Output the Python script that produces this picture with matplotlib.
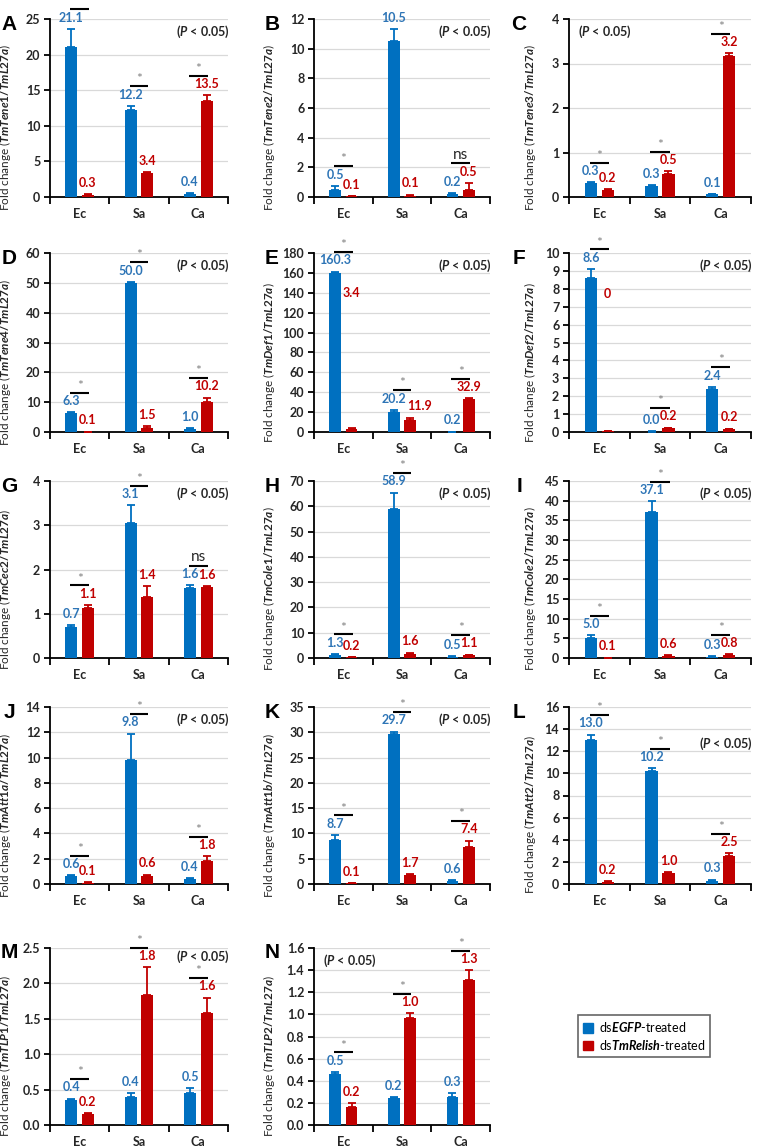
import matplotlib.pyplot as plt
import numpy as np
from matplotlib.patches import Patch

plt.rcParams["font.family"] = ["Lato", "DejaVu Sans"]
plt.rcParams["font.weight"] = "bold"
plt.rcParams["mathtext.fontset"] = "custom"
plt.rcParams["mathtext.it"] = "Lato:italic:bold"
plt.rcParams["mathtext.rm"] = "Lato:bold"
plt.rcParams["mathtext.bf"] = "Lato:bold"

# ---- data ----
groups = ["Ec", "Sa", "Ca"]
letters = ["A", "B", "C", "D", "E", "F", "G", "H", "I", "J", "K", "L", "M", "N"]
genes = ["TmTene1", "TmTene2", "TmTene3", "TmTene4", "TmDef1", "TmDef2", "TmCec2",
         "TmCole1", "TmCole2", "TmAtt1a", "TmAtt1b", "TmAtt2", "TmTLP1", "TmTLP2"]
ymaxs = [25, 12, 4, 60, 180, 10, 4, 70, 45, 14, 35, 16, 2.5, 1.6]
ysteps = [5, 2, 1, 10, 20, 1, 1, 10, 5, 2, 5, 2, 0.5, 0.2]

egfp = [[21.1, 12.2, 0.4], [0.5, 10.5, 0.2], [0.31, 0.25, 0.06], [6.3, 50.0, 1.0],
        [160.3, 20.2, 0.2], [8.6, 0.02, 2.4], [0.7, 3.05, 1.58], [1.3, 58.9, 0.5],
        [5.0, 37.1, 0.3], [0.6, 9.8, 0.4], [8.7, 29.7, 0.6], [13.0, 10.2, 0.3],
        [0.36, 0.40, 0.45], [0.46, 0.24, 0.25]]
egfp_err = [[2.5, 0.6, 0.1], [0.25, 0.8, 0.05], [0.02, 0.02, 0.01], [0.3, 0.3, 0.2],
            [0.8, 2.0, 0.1], [0.5, 0.01, 0.12], [0.05, 0.4, 0.07], [0.3, 6.5, 0.1],
            [0.8, 2.8, 0.1], [0.1, 2.1, 0.05], [1.0, 0.4, 0.15], [0.5, 0.25, 0.1],
            [0.01, 0.05, 0.07], [0.02, 0.01, 0.04]]
relish = [[0.3, 3.4, 13.5], [0.05, 0.1, 0.5], [0.15, 0.51, 3.17], [0.1, 1.5, 10.2],
          [3.4, 11.9, 32.9], [0.04, 0.2, 0.15], [1.12, 1.37, 1.6], [0.2, 1.6, 1.1],
          [0.1, 0.6, 0.8], [0.1, 0.6, 1.8], [0.1, 1.7, 7.4], [0.2, 1.0, 2.5],
          [0.15, 1.83, 1.58], [0.16, 0.97, 1.31]]
relish_err = [[0.1, 0.1, 0.8], [0.02, 0.05, 0.45], [0.02, 0.07, 0.06], [0.02, 0.4, 1.3],
              [0.3, 2.5, 1.0], [0.03, 0.05, 0.03], [0.08, 0.25, 0.03], [0.05, 0.5, 0.2],
              [0.02, 0.15, 0.2], [0.03, 0.15, 0.4], [0.02, 0.25, 1.2], [0.03, 0.1, 0.3],
              [0.02, 0.4, 0.22], [0.04, 0.04, 0.09]]
egfp_lab = [["21.1", "12.2", "0.4"], ["0.5", "10.5", "0.2"], ["0.3", "0.3", "0.1"],
            ["6.3", "50.0", "1.0"], ["160.3", "20.2", "0.2"], ["8.6", "0.0", "2.4"],
            ["0.7", "3.1", "1.6"], ["1.3", "58.9", "0.5"], ["5.0", "37.1", "0.3"],
            ["0.6", "9.8", "0.4"], ["8.7", "29.7", "0.6"], ["13.0", "10.2", "0.3"],
            ["0.4", "0.4", "0.5"], ["0.5", "0.2", "0.3"]]
relish_lab = [["0.3", "3.4", "13.5"], ["0.1", "0.1", "0.5"], ["0.2", "0.5", "3.2"],
              ["0.1", "1.5", "10.2"], ["3.4", "11.9", "32.9"], ["0", "0.2", "0.2"],
              ["1.1", "1.4", "1.6"], ["0.2", "1.6", "1.1"], ["0.1", "0.6", "0.8"],
              ["0.1", "0.6", "1.8"], ["0.1", "1.7", "7.4"], ["0.2", "1.0", "2.5"],
              ["0.2", "1.8", "1.6"], ["0.2", "1.0", "1.3"]]
sig = [["*", "*", "*"], ["*", "", "ns"], ["*", "*", "*"], ["*", "*", "*"],
       ["*", "*", "*"], ["*", "*", "*"], ["*", "*", "ns"], ["*", "*", "*"],
       ["*", "*", "*"], ["*", "*", "*"], ["*", "*", "*"], ["*", "*", "*"],
       ["*", "*", "*"], ["*", "*", "*"]]
p_side = ["right", "right", "left", "right", "right", "right", "right", "right",
          "right", "right", "right", "right", "right", "left"]

# ---- layout (pixels) ----
W, H = 759, 1147
BLUE, RED = "#0070C0", "#C00000"
BLUE_TXT = "#2E75B6"
col_left = [50, 314, 569]
col_right = [228, 490, 751]
row_top = [19, 253, 481, 707, 948]
row_bot = [197, 432, 658, 884, 1125]
ylab_x = [13, 277, 538]
letter_x = [9, 272, 519]
label_override = {(4, 0, 1): 134, (5, 0, 1): 7.4}
label_dx = {(4, 1, 1): 0.3}
p_y = {11: 0.79, 12: 0.95}

fig = plt.figure(figsize=(W / 100, H / 100), dpi=100)
x = np.arange(len(groups))

for i, letter in enumerate(letters):
    r, c = divmod(i, 3)
    l, rt, t, b = col_left[c], col_right[c], row_top[r], row_bot[r]
    ax = fig.add_axes([l / W, 1 - b / H, (rt - l) / W, (b - t) / H])
    ymax, step = ymaxs[i], ysteps[i]
    bv, be = np.array(egfp[i]), np.array(egfp_err[i])
    rv, re = np.array(relish[i]), np.array(relish_err[i])

    ekw_b = dict(ecolor=BLUE, capsize=3, elinewidth=1.3, capthick=1.3)
    ekw_r = dict(ecolor=RED, capsize=3, elinewidth=1.3, capthick=1.3)
    ax.bar(x - 0.14, bv, 0.2, color=BLUE, yerr=[np.zeros(3), be], error_kw=ekw_b, zorder=3)
    ax.bar(x + 0.14, rv, 0.2, color=RED, yerr=[np.zeros(3), re], error_kw=ekw_r, zorder=3)

    ax.set_xlim(-0.5, 2.5)
    ax.set_ylim(0, ymax)
    ax.set_yticks(np.arange(0, ymax + step / 2, step))
    if step < 1:
        ax.yaxis.set_major_formatter(plt.FormatStrFormatter("%.1f"))
    ax.yaxis.grid(True, color="#d9d9d9", lw=0.9)
    ax.set_axisbelow(True)
    ax.set_xticks(x)
    ax.set_xticklabels(groups)
    ax.set_xticks([-0.5, 0.5, 1.5, 2.5], minor=True)
    ax.tick_params(axis="x", which="major", length=0, pad=8, labelsize=9, colors="#262626")
    ax.tick_params(axis="x", which="minor", length=5, width=1.3, direction="out")
    ax.tick_params(axis="y", length=4, width=1.3, labelsize=9, colors="#262626", pad=3)
    ax.tick_params(axis="y", color="black")
    for s in ["top", "right"]:
        ax.spines[s].set_visible(False)
    for s in ["left", "bottom"]:
        ax.spines[s].set_linewidth(1.3)
        ax.spines[s].set_color("black")

    ax.set_ylabel("Fold change (" + r"$\it{" + genes[i] + "/TmL27a}$" + ")", fontsize=8.5,
                  color="#262626")
    ax.yaxis.set_label_coords((ylab_x[c] - l) / (rt - l), 0.39)

    # value labels and significance marks
    for j in range(3):
        tops = []
        for k, (v, e, lab, col, dx) in enumerate([(bv[j], be[j], egfp_lab[i][j], BLUE_TXT, -0.14),
                                                  (rv[j], re[j], relish_lab[i][j], RED, 0.14)]):
            y = v + e + 0.03 * ymax
            if (i, j, k) in label_override:
                y = label_override[(i, j, k)]
            dx = label_dx.get((i, j, k), dx)
            tops.append(y)
            ax.text(j + dx, y, lab, ha="center", va="bottom", fontsize=9, color=col,
                    fontweight="bold", clip_on=False)
        mark = sig[i][j]
        if mark:
            ly = max(tops) + 0.08 * ymax
            ax.plot([j - 0.16, j + 0.16], [ly, ly], color="black", lw=1.5, clip_on=False,
                    solid_capstyle="butt")
            if mark == "*":
                ax.text(j, ly + 0.005 * ymax, "*", ha="center", va="bottom", fontsize=10,
                        color="#808080", fontweight="normal", clip_on=False)
            else:
                ax.text(j, ly + 0.01 * ymax, mark, ha="center", va="bottom", fontsize=11,
                        color="#262626", fontweight="normal", clip_on=False)

    py = p_y.get(i, 0.93)
    if p_side[i] == "right":
        ax.text(1.01, py, r"($\it{P}$ < 0.05)", transform=ax.transAxes, ha="right",
                va="center", fontsize=9, color="#262626")
    else:
        ax.text(0.05, py, r"($\it{P}$ < 0.05)", transform=ax.transAxes, ha="left",
                va="center", fontsize=9, color="#262626")

    fig.text(letter_x[c] / W, 1 - (t + 5) / H, letter, ha="center", va="center",
             fontsize=15, fontweight="bold", family="Liberation Sans")

handles = [Patch(color=BLUE, label=r"ds$\it{EGFP}$-treated"),
           Patch(color=RED, label=r"ds$\it{TmRelish}$-treated")]
leg = fig.legend(handles=handles, loc="center", bbox_to_anchor=(0.8485, 0.0968),
                 frameon=True, fancybox=False, edgecolor="#404040",
                 prop={"size": 9, "weight": "normal"}, handlelength=0.8, handleheight=0.8,
                 handletextpad=0.5, borderpad=0.4, labelspacing=0.3)
leg.get_frame().set_linewidth(1.2)

fig.savefig("out.png", dpi=100)
